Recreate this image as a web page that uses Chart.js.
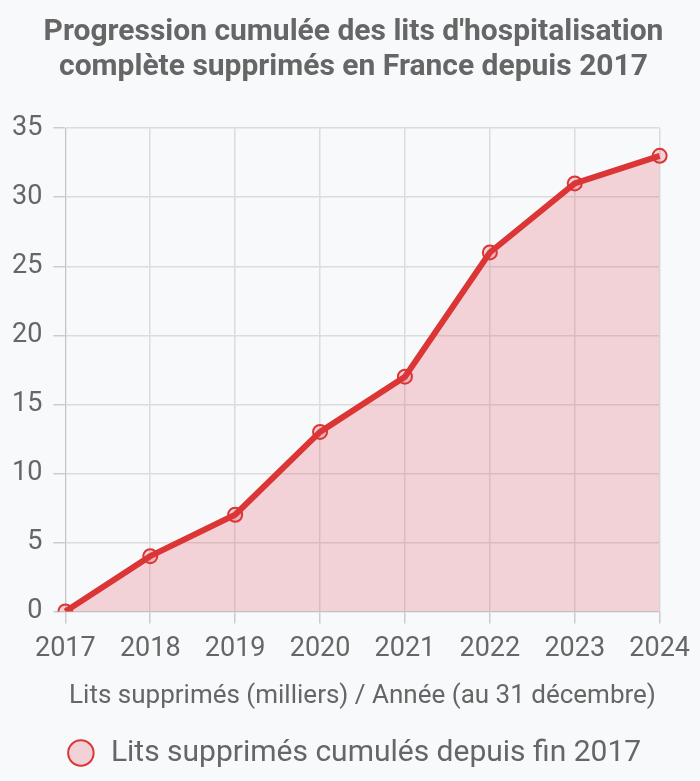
<!DOCTYPE html>
<html>
<head>
<meta charset="utf-8">
<script src="https://cdn.jsdelivr.net/npm/chart.js@4"></script>
<style>
    html, body { margin: 0; padding: 0; background: #f8f9fa; }
    #wrap { width: 700px; height: 781px; }
</style>
</head>
<body>
<div id="wrap"><canvas id="litsChart"></canvas></div>
<script>
const years = ["2017", "2018", "2019", "2020", "2021", "2022", "2023", "2024"];
const litsSupprimes = [0, 4, 7, 13, 17, 26, 31, 33]; // milliers, cumulés
const yTicks = [0, 5, 10, 15, 20, 25, 30, 35];

document.addEventListener("DOMContentLoaded", function () {
    Chart.defaults.font.family = "Roboto, 'Noto Sans', sans-serif";
    Chart.defaults.color = "#666";

    const ctx = document.getElementById("litsChart").getContext("2d");

    new Chart(ctx, {
        type: "line",
        data: {
            labels: years,
            datasets: [{
                label: "Lits supprimés cumulés depuis fin 2017",
                data: litsSupprimes,
                borderColor: "#dc3535",
                backgroundColor: "rgba(220, 53, 69, 0.2)",
                pointBackgroundColor: "rgba(220, 53, 69, 0.2)",
                pointBorderColor: "#dc3535",
                borderWidth: 6,
                pointRadius: 7,
                pointBorderWidth: 2,
                fill: true,
                tension: 0,
            }],
        },
        options: {
            responsive: true,
            maintainAspectRatio: false,
            animation: false,
            layout: { padding: { left: 1, right: -6, top: 0, bottom: 3 } },
            plugins: {
                title: {
                    display: true,
                    text: ["Progression cumulée des lits d'hospitalisation", "complète supprimés en France depuis 2017"],
                    font: { size: 30, weight: "bold", lineHeight: 1.17 },
                    padding: { top: 15, bottom: 43 },
                },
                legend: {
                    position: "bottom",
                    labels: {
                        usePointStyle: true,
                        boxHeight: 18,
                        font: { size: 30 },
                        padding: 14,
                    },
                },
            },
            scales: {
                x: {
                    grid: { color: "#dcdcdc", tickColor: "#cccccc", lineWidth: 1.5, tickLength: 12 },
                    ticks: { font: { size: 27 }, padding: 10 },
                    title: {
                        display: true,
                        text: "Lits supprimés (milliers) / Année (au 31 décembre)",
                        font: { size: 26 },
                        padding: { top: 5, bottom: 12 },
                    },
                },
                y: {
                    min: 0,
                    max: 35,
                    grid: { color: "#dcdcdc", tickColor: "#cccccc", lineWidth: 1.5, tickLength: 12 },
                    ticks: {
                        stepSize: 5,
                        font: { size: 27 },
                        padding: 11,
                        callback: function (v) { return yTicks.includes(v) ? v : ""; },
                    },
                },
            },
        },
    });
});
</script>
</body>
</html>
